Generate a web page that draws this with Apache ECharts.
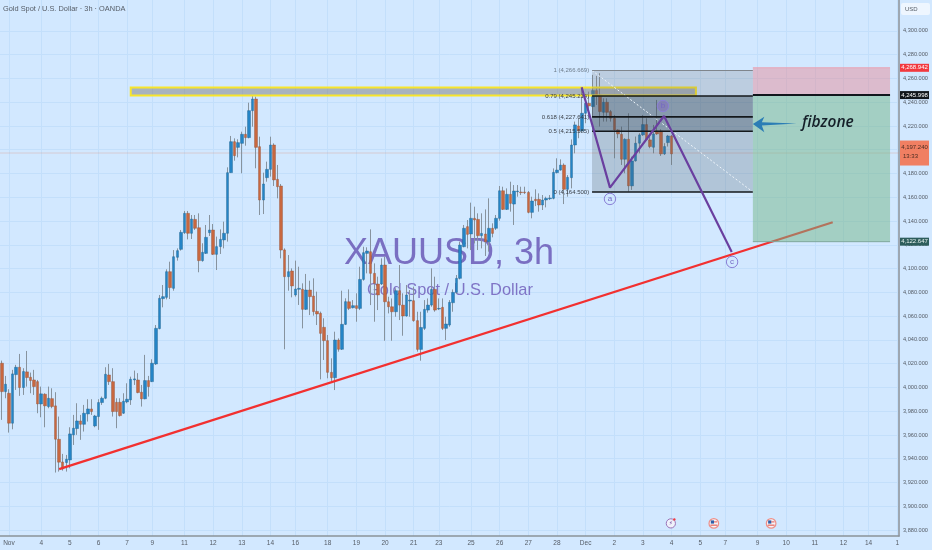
<!DOCTYPE html>
<html>
<head>
<meta charset="utf-8">
<title>XAUUSD 3h</title>
<style>
    html, body { margin: 0; padding: 0; background: #d2e8ff; }
    #main { width: 932px; height: 550px; filter: blur(0.35px); }
</style>
<script src="https://cdn.jsdelivr.net/npm/echarts@6/dist/echarts.min.js"></script>
</head>
<body>
<div id="main"></div>
<script>
// candles, 3h
var opens = [4020.4,3996.5,3995.1,3969.9,4010.8,4017,3999.9,4013.1,4008.6,4006.3,
    4004.9,3986.1,3994.3,3983.9,3990.6,3984.5,3956.4,3937.3,3936.8,3939,
    3960.1,3965.4,3971.8,3969,3977.7,3981.9,3967.6,3975.5,3987.3,3990.9,
    4010.5,4004.9,3987.5,3987.5,3978.3,3987.8,3989.5,4006.3,4006.3,3996,
    3990.4,4005.8,4004.9,4019.7,4049.5,4074.7,4075.8,4097.4,4083.4,4109.5,
    4116.2,4130.2,4146.5,4129.7,4141.4,4134.4,4106.7,4112.8,4130.2,4132.5,
    4112,4118.5,4124.1,4129.7,4180.7,4206.8,4202,4205.4,4213,4210.2,
    4232.9,4242.7,4202.6,4157.7,4176.5,4183.5,4204,4175.1,4169.5,4115.7,
    4093.2,4098,4077.8,4082.6,4082.6,4065.7,4082,4076.9,4064,4062.4,
    4050.6,4039.4,4012.7,4008.2,4039.9,4032.1,4053.1,4072.1,4067.1,4068.8,
    4066.5,4090.9,4112.8,4114.2,4096,4087,4087,4103,4072.1,4067.9,
    4063.7,4081.4,4069.3,4060.1,4072.7,4073,4056.2,4032,4049.7,4065.1,
    4069.3,4082.5,4066,4067.4,4049.7,4052.5,4071.3,4080,4091.8,4118.4,
    4135.3,4129.1,4142.3,4141.4,4127.7,4129.1,4122.6,4133.9,4133.9,4142.3,
    4165.5,4149.8,4162.5,4154.3,4164.7,4164.4,4164.4,4164.1,4147.3,4158.3,
    4158.3,4153.5,4157.7,4158.8,4159.1,4180.7,4182.9,4187.1,4166.7,4176.5,
    4204,4220,4215.8,4230.7,4239.1,4236.3,4249.8,4246.1,4231.5,4240,
    4232.1,4226.5,4216.7,4213,4192,4208.8,4169.6,4190.6,4205.5,4212.5,
    4221.2,4208.3,4202.1,4215.8,4215.8,4196.5,4206,4211.6];
var closes = [3996.5,4002.7,3969.9,4011.4,4017,3999.9,4013.4,4008.3,4005.8,4000.7,
    3986.1,3994.6,3984.5,3990.9,3983.9,3956.4,3937.1,3931.4,3939.6,3960.9,
    3965.7,3971.8,3969,3978.3,3981.9,3979.7,3976,3987.3,3990.9,4011.1,
    4004.9,3979.7,3979.7,3976.3,3988.4,3990.1,4006.9,4007.2,3995.7,3990.4,
    4005.8,4000.7,4020.4,4049.7,4075,4076.4,4097.4,4084,4110,4115.1,
    4130.5,4146.5,4129.7,4141.7,4133.9,4106.7,4113.7,4126.3,4132.5,4112,
    4118.5,4124.6,4129.7,4180.7,4206.8,4195,4206,4213,4210.2,4232.9,
    4242.7,4202,4157.7,4171.2,4183.5,4204,4174.6,4168.9,4115.6,4093.2,
    4097.4,4085.4,4082.8,4083.4,4065.7,4082,4076.4,4063.8,4061.8,4045.5,
    4039.4,4012.7,4008.2,4039.9,4032.1,4053.1,4072.2,4066.5,4068.8,4066.5,
    4090.9,4113.4,4114.8,4096,4087.6,4077.8,4103,4072.1,4067.9,4063.7,
    4081.4,4069.3,4060.1,4077.8,4073.5,4056.2,4032,4050.5,4065.7,4069.3,
    4082.5,4065.1,4066.5,4049.7,4053.4,4071.6,4080,4091.8,4119.8,4133.9,
    4128.8,4142.3,4140.9,4127.7,4129.6,4122.6,4133.9,4129.6,4142.3,4165.5,
    4149.8,4162.5,4154.9,4165.3,4165.3,4163.9,4163.9,4147.3,4156.9,4157.1,
    4153.5,4157.7,4159.1,4159.4,4181,4182.9,4187.1,4166.7,4176.8,4204,
    4220.9,4215.8,4230.7,4239.1,4236.9,4249.8,4246.1,4232.1,4240,4231.5,
    4226.5,4216.7,4213.3,4192,4208.8,4169.6,4190.6,4205.5,4212.5,4221.2,
    4208.8,4202.7,4213.3,4213.3,4196.5,4202.7,4211.6,4196.5];
var highs = [4022.6,4009.7,3998.5,4014.8,4019,4028.2,4016.2,4030.7,4012.5,4014.8,
    4006.3,4000.7,3995.1,4000.7,3999.3,3996,3975.5,3944.1,3943.2,3966.5,
    3976.9,3986.7,3976.9,3985.3,3990.1,3990.1,3976.9,3990.1,3992.3,4017,
    4019.8,4016.2,3990.9,3990.9,3995.1,4003.5,4009.1,4014.2,4012,4002.1,
    4027.4,4009.7,4023.7,4052.5,4077.8,4086.2,4099.4,4105.8,4115.6,4117,
    4132.5,4148.5,4148.5,4145.1,4145.1,4146.5,4121.3,4136.7,4145.1,4137.5,
    4126.9,4133,4139.5,4185.2,4211.6,4209.6,4208.8,4215.2,4219.4,4239.6,
    4245.2,4244.7,4211,4180.7,4190,4211,4205.4,4187.2,4171.2,4117,
    4111.4,4100.2,4106.7,4101.6,4087.6,4095.5,4089.8,4091.8,4080.6,4063.8,
    4058.2,4044.1,4024.5,4046.9,4041.3,4081.4,4075,4082.5,4073.5,4079.2,
    4101.6,4118.4,4117.9,4133,4104.4,4093.2,4108.6,4110,4076.3,4074.9,
    4083.4,4103,4079.2,4086.2,4082,4084.8,4063.7,4063.7,4073.5,4074.9,
    4100.2,4093.2,4074.9,4074.9,4059.5,4073.5,4082.5,4094.6,4122.6,4136.7,
    4140.9,4155.5,4152.1,4146.5,4146.5,4149.8,4159.1,4138.1,4145.1,4169.5,
    4168.9,4167.5,4173.1,4170.3,4170.3,4168.9,4168.9,4165.3,4160.5,4166.7,
    4163.3,4161.9,4160.5,4161.9,4184.3,4192.8,4191.9,4188.5,4178.7,4208.7,
    4223.7,4226.5,4252.6,4241.9,4248.9,4263,4262.1,4264.4,4243.3,4243.3,
    4233.5,4229.3,4217.2,4219.5,4209.7,4230.7,4194.2,4211.1,4213.9,4229.3,
    4226.5,4211.6,4220.9,4241.9,4217.2,4205.5,4212.5,4212.5];
var lows = [3972.7,3990.9,3962,3964.8,3997.9,3992.9,3993.7,4000.7,3995.1,3993.7,
    3978.3,3974.9,3966.5,3982.5,3982.5,3928.4,3929.2,3930,3929.2,3932,
    3951.6,3960.1,3955.9,3962.9,3971.3,3976.9,3966.5,3964.3,3985.3,3990.1,
    4002.1,3975.5,3965.7,3975.5,3977.7,3986.7,3985.3,4002.1,3995.1,3983.9,
    3990,3992.3,4004.5,4018.9,4048.9,4067.4,4074.1,4074.4,4081.4,4106.7,
    4115.1,4129.1,4124.6,4124.9,4132.5,4096.9,4105.8,4112.3,4127.4,4111.4,
    4098.8,4112.3,4117,4122.7,4180.7,4190.8,4193.6,4180.2,4203.4,4209.6,
    4219.4,4184.4,4145.1,4145.9,4173.1,4177.4,4169.5,4159.1,4108.6,4032.1,
    4081.4,4075.8,4076.4,4069.4,4049.7,4065.2,4060.9,4060.4,4052.5,4006.8,
    4023.1,4007.7,4004.9,3997.8,4030.1,4031.5,4052.5,4065.1,4066.5,4055.3,
    4065.1,4089.8,4096,4069.3,4055.3,4065.1,4086.2,4039.3,4062.3,4039.3,
    4059.5,4056.7,4043.5,4059.5,4059.5,4055.3,4030.1,4022.5,4048.3,4062.9,
    4067.9,4063.7,4065.1,4048.3,4039.9,4051.1,4063.7,4078.6,4090.9,4117.9,
    4117,4115.6,4121.2,4115.6,4117,4110.6,4114.2,4126.3,4132.5,4140.3,
    4149.3,4149.3,4147.9,4136.7,4160.5,4161.9,4162.7,4146.5,4142.3,4152.6,
    4147.9,4149.3,4151.5,4157.7,4158.3,4180.1,4182.4,4154.3,4160.5,4167.5,
    4197,4209.7,4215.3,4222.3,4227.9,4227.9,4237.7,4219.5,4223.7,4223.7,
    4223.7,4192.8,4209.7,4187.2,4180.2,4164.8,4166.2,4190,4197,4211.6,
    4208.3,4201.3,4197,4212.5,4194.8,4195.6,4202.7,4187.2];

// axes
var barSlots = 251;
var priceMin = 3875, priceMax = 4326;
var priceTicks = [3880,3900,3920,3940,3960,3980,4000,4020,4040,4060,4080,4100,4120,4140,4160,4180,4200,4220,4240,4260,4280,4300];
var dayTicks = [2,11,19,27,35,42,51,59,67,75,82,91,99,107,115,122,131,139,147,155,163,171,179,187,195,202,211,219,227,235,242,250];
var dayLabels = ['Nov','4','5','6','7','9','11','12','13','14','16','18','19','20','21','23','25','26','27','28','Dec','2','3','4','5','7','9','10','11','12','14','1'];

// drawings (bar number, price)
var fibLevels = [4266.669, 4245.214, 4227.641, 4215.585, 4164.5];
var fibLabels = ['1 (4,266.669)', '0.79 (4,245.214)', '0.618 (4,227.641)', '0.5 (4,215.585)', '0 (4,164.500)'];
var fibFills = ['rgba(100,100,100,0.2)', 'rgba(60,75,90,0.5)', 'rgba(60,75,90,0.5)', 'rgba(80,90,100,0.25)'];
var fibBars = [164.8, 209.7];
var stopLevel = 4268.942, entryLevel = 4245.998, targetLevel = 4122.647, lastPrice = 4197.24;
var riskBars = [209.7, 248];
var zoneBars = [36, 193.8], zonePrices = [4252.4, 4245.7];
var trendLine = [[16, 3931.2], [232, 4139]];
var waveLine = [[161.9, 4252.6], [169.8, 4168.1], [184.9, 4228.4], [203.8, 4114]];
var waveMarks = [[169.8, 4158.6, 'a'], [184.6, 4236.8, 'b'], [203.9, 4105.6, 'c']];
var arrowShape = [[209.7, 4221.7], [212.9, 4227.8], [212.2, 4223.2], [221.9, 4222.1], [212.2, 4220.5], [212.9, 4214.8]];
var noteBar = 223.4, notePrice = 4222.5;
var badgePrices = [stopLevel, entryLevel, lastPrice, targetLevel];
var badgeLabels = ['4,268.942', '4,245.998', '4,197.240', '4,122.647'];
var badgeColors = ['#f2393f', '#11161c', '#f07f62', '#2d5d5c'];
var badgeText = ['#fff', '#fff', '#4a2c22', '#e6f2ee'];
var eventBars = [186.8, 198.8, 214.8];
var eventPrice = 3885.6;

var categories = [], wicks = [], bodies = [];
for (var i = 0; i < barSlots; i++) {
    categories.push(String(i));
}
for (var n = 0; n < opens.length; n++) {
    wicks.push([opens[n], closes[n], lows[n], highs[n]]);
    bodies.push([opens[n], closes[n], Math.min(opens[n], closes[n]), Math.max(opens[n], closes[n])]);
}

var labelFont = 'Liberation Sans';

function rectShape(api, b0, b1, p0, p1) {
    var a = api.coord([b0, p0]);
    var b = api.coord([b1, p1]);
    return { x: a[0], y: a[1], width: b[0] - a[0], height: b[1] - a[1] };
}

function lineEl(api, b0, p0, b1, p1, color, width, dash) {
    var a = api.coord([b0, p0]);
    var b = api.coord([b1, p1]);
    return {
        type: 'line',
        shape: { x1: a[0], y1: a[1], x2: b[0], y2: b[1] },
        style: { stroke: color, lineWidth: width, lineDash: dash || null }
    };
}

function drawFib(params, api) {
    var kids = [];
    for (var f = 0; f < fibFills.length; f++) {
        kids.push({
            type: 'rect',
            shape: rectShape(api, fibBars[0], fibBars[1], fibLevels[f], fibLevels[f + 1]),
            style: { fill: fibFills[f] }
        });
    }
    kids.push(lineEl(api, fibBars[0], fibLevels[0], fibBars[1], fibLevels[4], '#eef5fb', 1, [2, 2]));
    for (var l = 0; l < fibLevels.length; l++) {
        var p = api.coord([fibBars[0] - 0.8, fibLevels[l]]);
        kids.push(lineEl(api, fibBars[0], fibLevels[l], fibBars[1], fibLevels[l], l == 0 ? '#7f858c' : '#14181c', l == 0 ? 1.2 : 1.6));
        kids.push({
            type: 'text',
            style: {
                text: fibLabels[l], x: p[0], y: p[1], align: 'right', verticalAlign: 'middle',
                fill: l == 0 ? '#6d7b8a' : '#3a4048', font: '6px ' + labelFont
            }
        });
    }
    return { type: 'group', children: kids };
}

function drawRisk(params, api) {
    return {
        type: 'group',
        children: [
            { type: 'rect', shape: rectShape(api, riskBars[0], riskBars[1], stopLevel, entryLevel), style: { fill: 'rgba(235,120,130,0.4)' } },
            { type: 'rect', shape: rectShape(api, riskBars[0], riskBars[1], entryLevel, targetLevel), style: { fill: 'rgba(116,182,135,0.5)' } },
            lineEl(api, riskBars[0], stopLevel, riskBars[1], stopLevel, '#e9a3b4', 1),
            lineEl(api, riskBars[0], entryLevel, riskBars[1], entryLevel, '#11161c', 2),
            lineEl(api, riskBars[0], targetLevel, riskBars[1], targetLevel, '#7fa79c', 1)
        ]
    };
}

function drawZone(params, api) {
    return {
        type: 'rect',
        shape: rectShape(api, zoneBars[0], zoneBars[1], zonePrices[0], zonePrices[1]),
        style: { fill: 'rgba(125,125,125,0.5)', stroke: '#f7e52b', lineWidth: 2 }
    };
}

function drawArrow(params, api) {
    var pts = [];
    for (var a = 0; a < arrowShape.length; a++) {
        pts.push(api.coord(arrowShape[a]));
    }
    var t = api.coord([noteBar, notePrice]);
    return {
        type: 'group',
        children: [
            { type: 'polygon', shape: { points: pts }, style: { fill: '#2b7db5' } },
            {
                type: 'text',
                style: {
                    text: 'fibzone', x: t[0], y: t[1], verticalAlign: 'middle',
                    fill: '#152029', font: 'italic 600 15.5px "Open Sans"'
                }
            }
        ]
    };
}

function drawWaveMark(params, api) {
    var m = waveMarks[params.dataIndex];
    var c = api.coord([m[0], m[1]]);
    return {
        type: 'group',
        children: [
            { type: 'circle', shape: { cx: c[0], cy: c[1], r: 5.7 }, style: { fill: m[2] == 'b' ? 'rgba(130,110,190,0.55)' : 'rgba(210,232,255,0.3)', stroke: '#8a80d6', lineWidth: 1 } },
            { type: 'text', style: { text: m[2], x: c[0], y: c[1], align: 'center', verticalAlign: 'middle', fill: '#7468c4', font: '8px ' + labelFont } }
        ]
    };
}

function drawEvent(params, api) {
    var c = api.coord([eventBars[params.dataIndex], eventPrice]);
    if (params.dataIndex == 0) {
        return {
            type: 'group',
            children: [
                { type: 'circle', shape: { cx: c[0], cy: c[1], r: 4.6 }, style: { fill: '#f0f2fb', stroke: '#9a72b8', lineWidth: 1 } },
                { type: 'text', style: { text: '⚡', x: c[0], y: c[1], align: 'center', verticalAlign: 'middle', fill: '#7a55a8', font: '6px "DejaVu Sans"' } },
                { type: 'circle', shape: { cx: c[0] + 3.5, cy: c[1] - 4, r: 1.2 }, style: { fill: '#f2393f' } }
            ]
        };
    }
    return {
        type: 'group',
        children: [
            { type: 'circle', shape: { cx: c[0], cy: c[1], r: 4.8 }, style: { fill: '#f4f4f8', stroke: '#ee8f88', lineWidth: 1.2 } },
            { type: 'rect', shape: { x: c[0] - 3, y: c[1] - 3, width: 3.2, height: 3.2 }, style: { fill: '#2f5fa8' } },
            { type: 'rect', shape: { x: c[0] + 0.2, y: c[1] - 2, width: 3.2, height: 1 }, style: { fill: '#e4574f' } },
            { type: 'rect', shape: { x: c[0] - 3.4, y: c[1] + 1.2, width: 6.8, height: 1.1 }, style: { fill: '#e4574f' } }
        ]
    };
}

function drawBadge(params, api) {
    var b = params.dataIndex;
    var c = api.coord([barSlots - 0.5, badgePrices[b]]);
    var kids = [];
    var tall = b == 2;
    kids.push({
        type: 'rect',
        shape: { x: c[0] + 1, y: c[1] - 4, width: 29, height: tall ? 25 : 8 },
        style: { fill: badgeColors[b] }
    });
    if (tall) {
        kids[0].shape.y = c[1] - 12.5;
    }
    kids.push({
        type: 'text',
        style: {
            text: badgeLabels[b], x: c[0] + 15.5, y: tall ? c[1] - 6 : c[1], align: 'center', verticalAlign: 'middle',
            fill: badgeText[b], font: '6px ' + labelFont
        }
    });
    if (tall) {
        kids.push({
            type: 'text',
            style: { text: '13:33', x: c[0] + 4, y: c[1] + 3, verticalAlign: 'middle', fill: badgeText[b], font: '6px ' + labelFont }
        });
    }
    return { type: 'group', children: kids };
}

var option = {
    animation: false,
    backgroundColor: '#d2e8ff',
    grid: { left: 0, right: 33, top: 0, bottom: 14 },
    graphic: [
        { type: 'text', left: 3, top: 5, z: 5, style: { text: 'Gold Spot / U.S. Dollar · 3h · OANDA', fill: '#555c66', font: '7.4px ' + labelFont } },
        { type: 'text', x: 449, y: 254, z: 1, style: { text: 'XAUUSD, 3h', align: 'center', verticalAlign: 'middle', fill: '#7a6fc2', stroke: 'none', lineWidth: 0, font: '36px ' + labelFont } },
        { type: 'text', x: 450, y: 290, z: 1, style: { text: 'Gold Spot / U.S. Dollar', align: 'center', verticalAlign: 'middle', fill: '#7f74c6', stroke: 'none', lineWidth: 0, font: '16.4px ' + labelFont } },
        { type: 'rect', shape: { x: 901, y: 3, width: 29, height: 12, r: 2 }, z: 5, style: { fill: '#eef6ff' } },
        { type: 'text', x: 905, y: 9, z: 6, style: { text: 'USD', verticalAlign: 'middle', fill: '#555c66', font: '6px ' + labelFont } }
    ],
    xAxis: [
        {
            type: 'category',
            data: categories,
            show: false
        },
        {
            type: 'value',
            position: 'bottom',
            min: -0.5,
            max: barSlots - 0.5,
            axisLine: { show: true, onZero: false, lineStyle: { color: '#8b9299', width: 1.5 } },
            axisTick: { show: false, customValues: dayTicks },
            splitLine: { show: true, lineStyle: { color: '#c3dffb', width: 1 } },
            axisLabel: {
                customValues: dayTicks,
                color: '#555c66',
                fontSize: 6.5,
                fontFamily: labelFont,
                margin: 4,
                hideOverlap: false,
                formatter: function (v) {
                    return dayLabels[dayTicks.indexOf(v)];
                }
            }
        }
    ],
    yAxis: {
        type: 'value',
        position: 'right',
        min: priceMin,
        max: priceMax,
        axisLine: { show: true, onZero: false, lineStyle: { color: '#8b9299', width: 1.5 } },
        axisTick: { show: false, customValues: priceTicks },
        splitLine: { show: true, lineStyle: { color: '#c3dffb', width: 1 } },
        axisLabel: {
            customValues: priceTicks,
            color: '#555c66',
            fontSize: 5.6,
            fontFamily: labelFont,
            margin: 4,
            formatter: function (v) {
                return String(v).charAt(0) + ',' + String(v).slice(1) + '.000';
            }
        }
    },
    series: [
        {
            type: 'line', name: 'last', xAxisIndex: 1, z: 2, symbol: 'none', silent: true,
            data: [[-0.5, lastPrice], [barSlots - 0.5, lastPrice]],
            lineStyle: { color: 'rgba(222,140,110,0.3)', width: 1 }
        },
        {
            type: 'candlestick',
            name: 'wicks',
            xAxisIndex: 0,
            z: 3,
            barWidth: 1,
            data: wicks,
            itemStyle: {
                color: '#87939e',
                color0: '#87939e',
                borderColor: '#87939e',
                borderColor0: '#87939e',
                borderWidth: 1
            }
        },
        {
            type: 'candlestick',
            name: 'XAUUSD',
            xAxisIndex: 0,
            z: 3,
            barWidth: 3,
            data: bodies,
            itemStyle: {
                color: '#2484c6',
                color0: '#c8673f',
                borderColor: '#1f5f88',
                borderColor0: '#8f5238',
                borderWidth: 0.4
            }
        },
        {
            type: 'line', name: 'trend', xAxisIndex: 1, z: 4, symbol: 'none', silent: true,
            data: trendLine,
            lineStyle: { color: '#f23030', width: 2.3 }
        },
        { type: 'custom', name: 'zone', xAxisIndex: 1, z: 5, data: [0], renderItem: drawZone, silent: true },
        { type: 'custom', name: 'fib', xAxisIndex: 1, z: 5, data: [0], renderItem: drawFib, silent: true },
        { type: 'custom', name: 'risk', xAxisIndex: 1, z: 5, data: [0], renderItem: drawRisk, silent: true },
        {
            type: 'line', name: 'wave', xAxisIndex: 1, z: 6, symbol: 'none', silent: true,
            data: waveLine,
            lineStyle: { color: '#6a3f9f', width: 2.2 }
        },
        { type: 'custom', name: 'marks', xAxisIndex: 1, z: 7, data: waveMarks.map(function (m, i) { return i; }), renderItem: drawWaveMark, silent: true },
        { type: 'custom', name: 'note', xAxisIndex: 1, z: 7, data: [0], renderItem: drawArrow, silent: true },
        { type: 'custom', name: 'events', xAxisIndex: 1, z: 7, data: eventBars.map(function (m, i) { return i; }), renderItem: drawEvent, silent: true },
        { type: 'custom', name: 'badges', xAxisIndex: 1, z: 8, data: badgePrices.map(function (m, i) { return i; }), renderItem: drawBadge, silent: true }
    ]
};

var myChart = echarts.init(document.getElementById('main'));
myChart.setOption(option);
</script>
</body>
</html>
